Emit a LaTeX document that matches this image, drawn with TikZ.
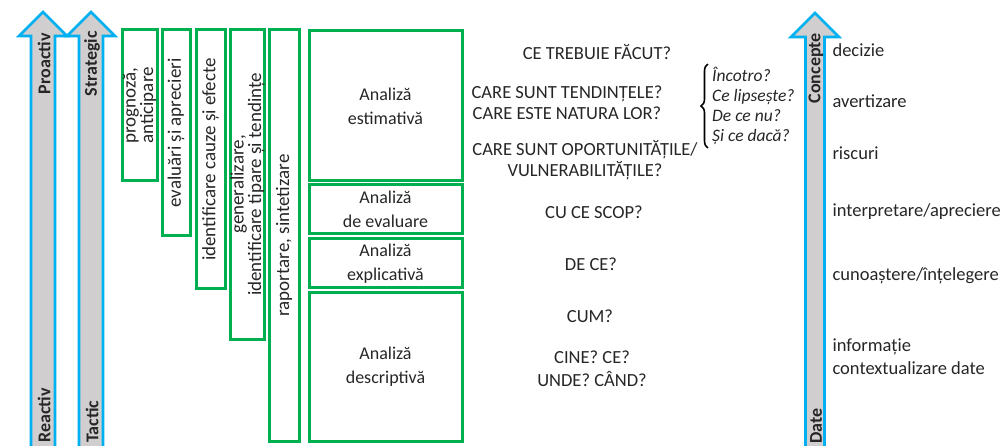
\documentclass[tikz,border=0pt]{standalone}
\usepackage{fontspec}
\setmainfont{Carlito}
\usetikzlibrary{positioning,decorations.pathreplacing}
\definecolor{boxgreen}{RGB}{0,176,80}
\definecolor{arrblue}{RGB}{0,176,240}
\definecolor{arrgrey}{RGB}{208,206,206}
\definecolor{txtgrey}{RGB}{38,38,38}

\begin{document}
\begin{tikzpicture}[
  x=1pt, y=-1pt,
  font=\fontsize{18.5}{23}\selectfont,
  every node/.style={text=txtgrey},
  bigarrow/.style={draw=arrblue,fill=arrgrey,line width=2.6pt},
  arrlabel/.style={rotate=90,inner sep=0pt,font=\fontsize{18}{20}\selectfont\bfseries},
  skillbox/.style={draw=boxgreen,line width=3pt,rotate=90,align=center,inner sep=0pt,
    font=\fontsize{19}{13.5}\selectfont},
  levelbox/.style={draw=boxgreen,line width=3pt,minimum width=153pt,align=center,
    font=\fontsize{18}{24}\selectfont},
  question/.style={align=center,font=\fontsize{18.5}{21}\selectfont},
  level/.style={anchor=west,align=left,font=\fontsize{18.5}{23}\selectfont}
    ]
\useasboundingbox (0,0) rectangle (1004,446);

% arrows
\draw[bigarrow] (31,452) -- (31,36) -- (19,36) -- (43,12) -- (67,36) -- (55,36) -- (55,452) -- cycle;
\draw[bigarrow] (79,452) -- (79,36) -- (67,36) -- (91,12) -- (115,36) -- (103,36) -- (103,452) -- cycle;
\draw[bigarrow] (805.5,452) -- (805.5,37) -- (791,37) -- (815,13) -- (839,37) -- (824.5,37) -- (824.5,452) -- cycle;

\node[arrlabel,anchor=east] (pro) at (44,33) {Proactiv};
\node[arrlabel,anchor=west] (rea) at (44,443) {Reactiv};
\node[arrlabel,anchor=east] (str) at (92,31) {Strategic};
\node[arrlabel,anchor=west] (tac) at (92,443) {Tactic};
\node[arrlabel,anchor=east] (con) at (816,33) {Concepte};
\node[arrlabel,anchor=west] (dat) at (816,444) {Date};

% activities
\node[skillbox,minimum width=151pt,minimum height=35pt] (s1) at (139.5,105.5) {prognoză,\\anticipare};
\node[skillbox,minimum width=206pt,minimum height=28pt] (s2) at (176,133) {evaluări și aprecieri};
\node[skillbox,minimum width=259pt,minimum height=29pt] (s3) at (210.5,159.5) {identificare cauze și efecte};
\node[skillbox,minimum width=309pt,minimum height=33pt] (s4) at (247.5,184.5) {generalizare,\\identificare tipare și tendințe};
\node[skillbox,minimum width=411pt,minimum height=30pt] (s5) at (284,235.5) {raportare, sintetizare};

% analysis types
\node[levelbox,minimum height=150pt] (est) at (385.5,106) {Analiză\\estimativă};
\node[levelbox,minimum height=49pt] (eva) at (385.5,209.5) {Analiză\\de evaluare};
\node[levelbox,minimum height=49pt] (exp) at (385.5,263.5) {Analiză\\explicativă};
\node[levelbox,minimum height=148pt] (des) at (385.5,367) {Analiză\\descriptivă};

% questions
\node[question] (q1) at (597,52) {CE TREBUIE FĂCUT?};
\node[question] (q2) at (567,102.5) {CARE SUNT TENDINȚELE?\\CARE ESTE NATURA LOR?};
\node[question] (q3) at (585,160.5) {CARE SUNT OPORTUNITĂȚILE/\\VULNERABILITĂȚILE?};
\node[question] (q4) at (594,212) {CU CE SCOP?};
\node[question] (q5) at (591,264) {DE CE?};
\node[question] (q6) at (590,316) {CUM?};
\node[question,font=\fontsize{18.5}{23}\selectfont] (q7) at (592,368.5) {CINE? CE?\\UNDE? CÂND?};

\node[anchor=west,align=left,inner sep=1pt,font=\fontsize{17.5}{20}\selectfont\itshape] (why) at (711,106)
  {Încotro?\\Ce lipsește?\\De ce nu?\\Și ce dacă?};
\draw[decorate,decoration={brace,amplitude=7pt},line width=1.6pt]
  ([xshift=-3pt,yshift=-2pt]why.south west) -- ([xshift=-3pt,yshift=2pt]why.north west);

% levels
\node[level] (l1) at (829,50) {decizie};
\node[level] (l2) at (829,101) {avertizare};
\node[level] (l3) at (829,153) {riscuri};
\node[level] (l4) at (829,212) {interpretare/apreciere};
\node[level] (l5) at (829,276) {cunoaștere/înțelegere};
\node[level] (l6) at (829,356.5) {informație\\contextualizare date};
\end{tikzpicture}
\end{document}
